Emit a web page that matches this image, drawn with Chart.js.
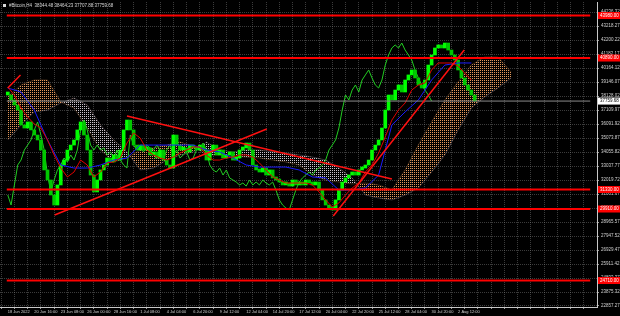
<!DOCTYPE html>
<html>
<head>
<meta charset="utf-8">
<script src="https://cdn.jsdelivr.net/npm/chart.js@4.4.0/dist/chart.umd.min.js"></script>
<style>
  html, body { margin: 0; padding: 0; background: #000; }
  #wrap { width: 620px; height: 316px; }
</style>
</head>
<body>
<div id="wrap"><canvas id="chart" width="620" height="316"></canvas></div>
<script>
// time axis labels, one every 16 H4 bars
const timeLabels = ['18 Jun 2022', '20 Jun 16:00', '23 Jun 08:00', '26 Jun 00:00', '28 Jun 16:00',
    '1 Jul 08:00', '4 Jul 04:00', '6 Jul 20:00', '9 Jul 12:00', '12 Jul 04:00', '14 Jul 20:00',
    '17 Jul 12:00', '20 Jul 04:00', '22 Jul 20:00', '25 Jul 12:00', '28 Jul 04:00', '30 Jul 20:00',
    '2 Aug 12:00'];

// closes, one every 2 bars
const closes = [38200, 37840, 37470, 37110, 36020, 35800, 36240, 35660, 35290, 34930,
    34200, 32750, 32020, 30930, 30200, 31660, 33110, 33470, 34200, 34560,
    34930, 35660, 36240, 35290, 34200, 32380, 31150, 32020, 32750, 33110,
    33620, 33330, 33840, 33470, 34200, 35660, 36380, 35660, 34560, 34200,
    34560, 34200, 34350, 33840, 34060, 33620, 34200, 33470, 33110, 32890,
    35290, 34560, 34200, 34350, 34060, 34560, 34350, 34200, 34560, 34200,
    33470, 34200, 34560, 33840, 34200, 33620, 33840, 34060, 33470, 33620,
    34200, 34350, 34710, 34200, 33110, 32750, 32600, 32890, 32380, 32750,
    32170, 32020, 31870, 31660, 31800, 31580, 32020, 31660, 31870, 31660,
    32020, 31800, 31660, 31870, 31290, 30570, 30200, 29980, 29840, 30570,
    31290, 31870, 32170, 32380, 32600, 32380, 32750, 32890, 33110, 33470,
    34200, 34560, 34930, 35800, 37110, 38200, 37840, 38560, 38930, 38420,
    39290, 39660, 40020, 39440, 38930, 38710, 39290, 40380, 41110, 41620,
    41840, 41620, 41980, 41470, 41110, 40750, 40020, 39440, 38930, 38560,
    38200, 37760];

// ichimoku lines
const tenkan = [38780, 38200, 37260, 36600, 36090, 35800, 34930, 33840, 32890, 32240,
    32600, 33470, 33110, 32240, 32600, 33260, 33330, 33620, 34710, 35440,
    35070, 34200, 33840, 33620, 33470, 33690, 33980, 34200, 34420, 34420,
    33840, 33470, 33470, 33620, 33690, 33840, 33840, 33690, 33260, 32750,
    32240, 32020, 31800, 31800, 31800, 31800, 31660, 31150, 30570, 30060,
    30350, 30930, 31440, 31800, 32600, 33110, 33980, 35150, 36380, 37110,
    37620, 38560, 38930, 39070, 40020, 40530, 40530, 40530, 40310, 39800,
    39290]; // every 4 bars
const kijun = [38710, 38420, 37110, 34930, 33110, 32890, 32890, 33110, 33470, 33620,
    34560, 34560, 34560, 34560, 34560, 34200, 34060, 33620, 33110, 32960,
    32960, 32960, 32750, 32240, 32170, 31290, 31290, 31440, 32380, 36020,
    36970, 37840, 39290, 40380, 40530, 40530]; // every 8 bars
const spanA = [38060, 38930, 39290, 39290, 37690, 37260, 35800, 34200, 33330, 33620,
    34200, 34350, 34560, 34780, 34490, 33840, 33840, 33770, 33690, 33620,
    33470, 33330, 33110, 32380, 32020, 31870, 31730, 31800, 31660, 31290,
    32750, 34560, 36240, 37840, 39150, 40380, 40960, 40960, 39870]; // every 8 bars
const spanB = [34930, 36020, 36970, 37110, 37620, 37980, 37470, 36020, 34930, 34060,
    32750, 32890, 33470, 33840, 34060, 34780, 34200, 34060, 34200, 34200,
    34060, 33980, 33840, 33690, 33470, 32890, 32170, 30930, 30710, 30570,
    30930, 31440, 32600, 33840, 35660, 37260, 38060, 38710, 39440];

const levels = [43980, 40890, 31330, 29910, 24710];
// trend lines: bar, price, bar, price
const trendLines = [
    [0, 38710, 7.7, 39660],
    [28.3, 29475, 156.4, 35730],
    [72, 36675, 232, 32093],
    [196.6, 29402, 275.7, 41474]
];
const lastPrice = 37759.68;
const axisStart = 22857.27;
const axisStep = 1018.05;
const title = '#Bitcoin,H4  38344.48 38464.23 37707.88 37759.68';

const xMin = -0.6, xMax = 351.8;
const yMin = 22784.55, yMax = 44963.6;

function dots(color) {
    const c = document.createElement('canvas');
    c.width = 2; c.height = 2;
    const g = c.getContext('2d');
    g.fillStyle = color;
    g.fillRect(0, 0, 1, 1);
    return g.createPattern(c, 'repeat');
}

const candles = closes.map((c, j) => ({ x: j * 2, y: [j ? closes[j - 1] : c, c] }));
const chikou = closes.slice(13).map((c, j) => ({ x: j * 2, y: c }));

const lineDs = (data, color, width, order) => ({
    type: 'line', data, borderColor: color, borderWidth: width,
    pointRadius: 0, fill: false, tension: 0, order
});

const datasets = [
    lineDs(spanA.map((v, i) => ({ x: i * 8, y: v })), 'rgba(244,164,96,0.5)', 0.5, 8),
    lineDs(spanB.map((v, i) => ({ x: i * 8, y: v })), 'rgba(216,191,216,0.5)', 0.5, 8),
    lineDs(chikou, '#22cc22', 1, 6),
    {
        type: 'bar', data: candles, order: 5,
        backgroundColor: ctx => ctx.raw && ctx.raw.y[1] >= ctx.raw.y[0] ? '#00ff00' : '#00c800',
        barThickness: 3, minBarLength: 3, grouped: false
    },
    lineDs(tenkan.map((v, i) => ({ x: i * 4, y: v })), '#e00000', 1, 4),
    lineDs(kijun.map((v, i) => ({ x: i * 8, y: v })), '#1a1aff', 1, 4),
    lineDs([{ x: xMin, y: lastPrice }, { x: xMax, y: lastPrice }], '#8a8a8a', 1, 3)
];
datasets[0].fill = { target: 1, above: dots('#e0965a'), below: dots('#c8c0c8') };
levels.forEach(v => datasets.push(lineDs([{ x: xMin, y: v }, { x: xMax, y: v }], '#ff0000', 2, 1)));
trendLines.forEach(t => datasets.push(lineDs([{ x: t[0], y: t[1] }, { x: t[2], y: t[3] }], '#ff1010', 1.5, 1)));

const yTicks = [];
for (let k = 0; axisStart + k * axisStep < yMax; k++) yTicks.push(axisStart + k * axisStep);

const overlay = {
    id: 'overlay',
    afterDraw(chart) {
        const { ctx, chartArea, scales: { y } } = chart;
        ctx.save();
        ctx.font = '4.5px "Liberation Sans"';
        ctx.textBaseline = 'middle';
        levels.forEach(v => {
            const py = y.getPixelForValue(v);
            ctx.fillStyle = '#ff0000';
            ctx.fillRect(chartArea.right + 1, py - 3.5, 22, 7);
            ctx.fillStyle = '#ffffff';
            ctx.fillText(v.toFixed(2), chartArea.right + 3, py);
        });
        const pp = y.getPixelForValue(lastPrice);
        ctx.fillStyle = '#ffffff';
        ctx.fillRect(chartArea.right + 1, pp - 3.5, 22, 7);
        ctx.fillStyle = '#000000';
        ctx.fillText(lastPrice.toFixed(2), chartArea.right + 3, pp);
        // title
        ctx.fillStyle = '#d8d8d8';
        ctx.fillRect(3, 4, 3, 3);
        ctx.fillText(title, 9, 6);
        ctx.restore();
    }
};

new Chart(document.getElementById('chart'), {
    type: 'line',
    data: { datasets },
    plugins: [overlay],
    options: {
        responsive: false,
        animation: false,
        layout: { padding: { top: 2, left: 0, right: 0, bottom: 0 } },
        plugins: { legend: { display: false }, tooltip: { enabled: false } },
        scales: {
            x: {
                type: 'linear', min: xMin, max: xMax,
                afterBuildTicks(s) {
                    const t = [];
                    for (let b = 0; b <= xMax; b += 8) t.push({ value: b });
                    s.ticks = t;
                },
                afterFit(s) { s.height = 9; s.paddingLeft = 0; s.paddingRight = 0; },
                ticks: {
                    align: 'start', autoSkip: false, maxRotation: 0, padding: 0,
                    color: '#d0d0d0', font: { size: 4, family: 'Liberation Sans' },
                    callback: v => (v % 16 === 0 ? (timeLabels[v / 16] || '') : '')
                },
                grid: { color: 'rgba(130,130,130,0.45)', tickLength: 2, tickColor: '#999' },
                border: { color: '#c8c8c8', dash: [1, 1] }
            },
            y: {
                position: 'right', min: yMin, max: yMax,
                afterBuildTicks(s) { s.ticks = yTicks.map(v => ({ value: v })); },
                afterFit(s) { s.width = 23; s.paddingTop = 0; s.paddingBottom = 0; },
                ticks: {
                    padding: 2, color: '#d0d0d0', font: { size: 4.5, family: 'Liberation Sans' },
                    callback: v => v.toFixed(2)
                },
                grid: { color: 'rgba(130,130,130,0.45)', tickLength: 2, tickColor: '#999' },
                border: { color: '#c8c8c8', dash: [1, 1] }
            }
        }
    }
});
</script>
</body>
</html>
